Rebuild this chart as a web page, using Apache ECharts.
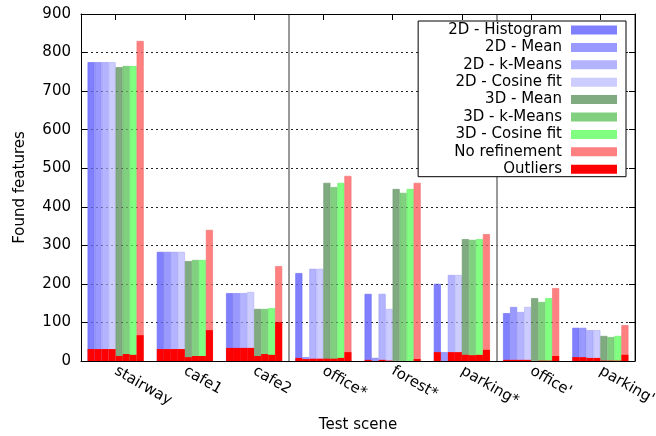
<!DOCTYPE html>
<html><head><meta charset="utf-8">
<script src="https://cdn.jsdelivr.net/npm/echarts@6/dist/echarts.min.js"></script>
<style>html,body{margin:0;padding:0;background:#fff}#c{width:656px;height:436px}</style>
</head><body><div id="c"></div>
<script>
const categories = ['stairway', 'cafe1', 'cafe2', 'office*', 'forest*', 'parking*', "office'", "parking'"];
const yTicks = [0, 100, 200, 300, 400, 500, 600, 700, 800, 900];

const seriesNames = ['2D - Histogram', '2D - Mean', '2D - k-Means', '2D - Cosine fit', '3D - Mean', '3D - k-Means', '3D - Cosine fit', 'No refinement'];

// Found features per method
const hist2d   = [775, 283, 176, 228, 174, 200, 124, 86];
const mean2d   = [775, 283, 176, 10, 8, 23, 140, 86];
const kmeans2d = [775, 283, 176, 239, 174, 223, 127, 80];
const cosine2d = [775, 283, 179, 239, 135, 223, 140, 80];
const mean3d   = [762, 259, 135, 462, 446, 316, 163, 65];
const kmeans3d = [765, 262, 135, 451, 436, 314, 153, 62];
const cosine3d = [765, 262, 137, 462, 446, 316, 163, 65];
const noref    = [830, 340, 246, 480, 462, 329, 189, 93];

// Outliers per method
const outHist2d   = [31, 31, 34, 8, 3, 23, 3, 10];
const outMean2d   = [31, 31, 34, 5, 0, 0, 3, 10];
const outKmeans2d = [31, 31, 34, 6, 3, 23, 3, 8];
const outCosine2d = [31, 31, 34, 6, 1, 23, 3, 8];
const outMean3d   = [13, 10, 13, 6, 0, 16, 0, 1];
const outKmeans3d = [18, 13, 18, 6, 0, 15, 1, 1];
const outCosine3d = [16, 13, 16, 8, 0, 16, 1, 1];
const outNoref    = [67, 80, 101, 23, 5, 29, 13, 16];

const totals = [hist2d, mean2d, kmeans2d, cosine2d, mean3d, kmeans3d, cosine3d, noref];
const outliers = [outHist2d, outMean2d, outKmeans2d, outCosine2d, outMean3d, outKmeans3d, outCosine3d, outNoref];
const colors = ['#8080ff', '#9999ff', '#b3b3ff', '#ccccff', '#80aa80', '#80d080', '#80ff80', '#ff8080'];
const edgeColors = ['#6a6af0', '#8080f0', '#9a9af5', '#b0b0f8', '#6c976c', '#66c066', '#66ee66', '#f07070'];
const outlierColor = '#ff0000';

const FONT = 'DejaVu Sans';
const chart = echarts.init(document.getElementById('c'), null, {renderer: 'canvas'});

const series = [];
totals.forEach((d, i) => series.push({
  name: seriesNames[i], type: 'bar', xAxisIndex: 0, yAxisIndex: 0, data: d,
  barGap: '0%', barCategoryGap: '19%',
  itemStyle: {color: colors[i], borderColor: edgeColors[i], borderWidth: 0.6}, z: 2
}));
outliers.forEach((d, i) => series.push({
  name: 'Outliers', type: 'bar', xAxisIndex: 1, yAxisIndex: 0, data: d,
  barGap: '0%', barCategoryGap: '19%', itemStyle: {color: outlierColor}, z: 2
}));

const axisLine = {show: true, onZero: false, lineStyle: {color: '#000', width: 1}};
chart.setOption({
  animation: false,
  textStyle: {fontFamily: FONT},
  grid: {left: 81, right: 21, top: 14, bottom: 75, containLabel: false, outerBoundsMode: 'none'},
  legend: {
    data: seriesNames.concat(['Outliers']),
    orient: 'vertical', align: 'right', right: 30, top: 21, z: 5,
    icon: 'rect', itemWidth: 46, itemHeight: 9, itemGap: 2.4,
    padding: [1.5, 9, 0, 30],
    borderColor: '#000', borderWidth: 1, backgroundColor: '#fff',
    textStyle: {fontFamily: FONT, fontSize: 15, color: '#000', lineHeight: 15, padding: [0, 4, 0, 0]},
    itemStyle: {borderWidth: 0},
    selectedMode: false
  },
  xAxis: [{
    type: 'category', data: categories, position: 'bottom', boundaryGap: true, z: 3,
    axisLine: axisLine,
    axisTick: {show: false},
    axisLabel: {rotate: -30, fontFamily: FONT, fontSize: 15, color: '#000', margin: 9, interval: 0},
    splitLine: {show: true, interval: (i) => i === 3 || i === 6, lineStyle: {color: '#777', width: 1.5, type: 'solid'}},
    name: 'Test scene', nameLocation: 'middle', nameGap: 57,
    nameTextStyle: {fontFamily: FONT, fontSize: 15, color: '#000', verticalAlign: 'top'}
  }, {
    type: 'category', data: categories, position: 'top', boundaryGap: true, z: 3,
    axisLine: axisLine,
    axisTick: {show: true, inside: true, alignWithLabel: true, length: 6, lineStyle: {color: '#000'}},
    axisLabel: {show: false}, splitLine: {show: false}
  }],
  yAxis: [{
    type: 'value', min: yTicks[0], max: yTicks[yTicks.length - 1], interval: 100, position: 'left',
    axisLine: axisLine,
    axisTick: {show: true, inside: true, length: 6, lineStyle: {color: '#000'}},
    axisLabel: {fontFamily: FONT, fontSize: 15, color: '#000', margin: 10},
    splitLine: {show: true, lineStyle: {color: '#333', width: 1, type: [2, 3]}},
    name: 'Found features', nameLocation: 'middle', nameGap: 53, nameRotate: 90,
    nameTextStyle: {fontFamily: FONT, fontSize: 15, color: '#000'}
  }, {
    type: 'value', min: yTicks[0], max: yTicks[yTicks.length - 1], interval: 100, position: 'right', z: 3,
    axisLine: axisLine,
    axisTick: {show: true, inside: true, length: 6, lineStyle: {color: '#000'}},
    axisLabel: {show: false},
    splitLine: {show: true, lineStyle: {color: '#000', opacity: 0.3, width: 1, type: [2, 3]}}
  }],
  series: series
});
</script>
</body></html>
